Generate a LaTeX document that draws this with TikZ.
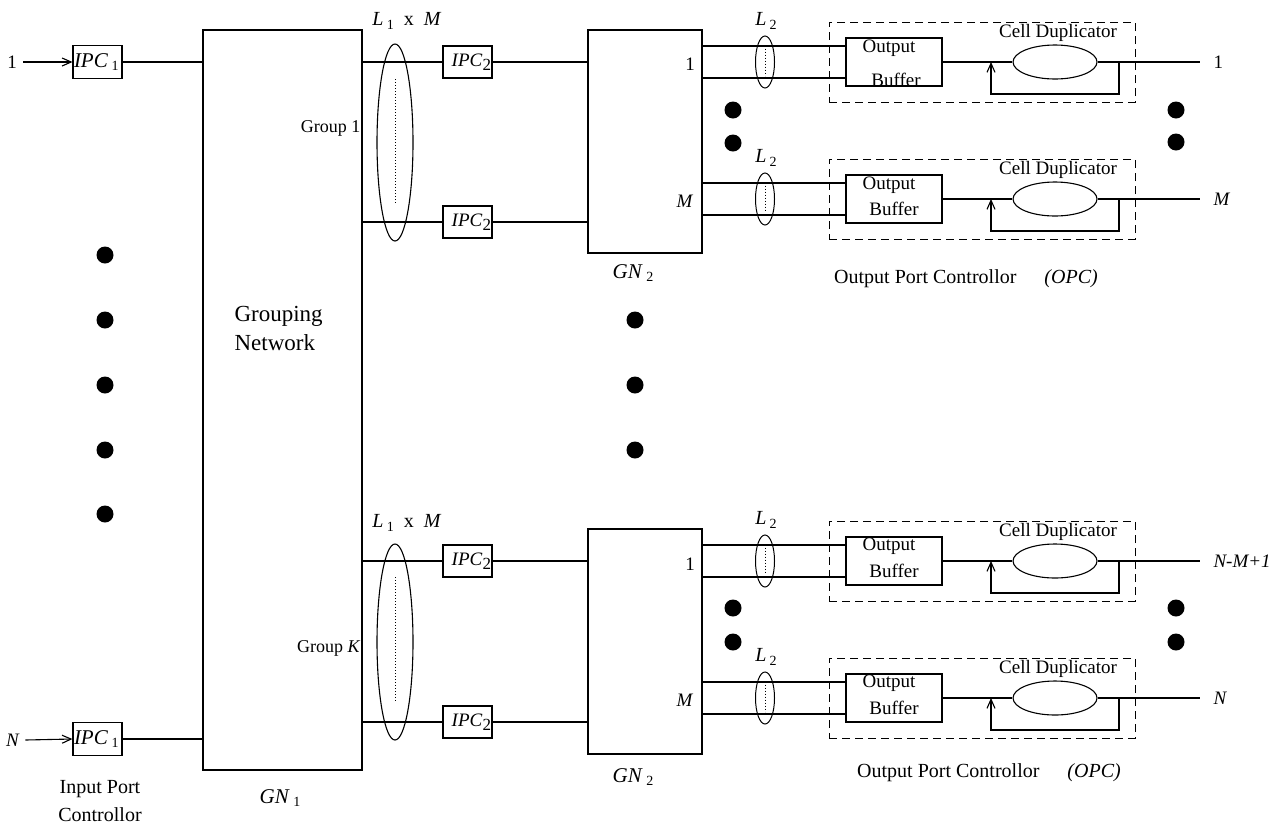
\documentclass[tikz,border=0pt]{standalone}
\usepackage{fontspec}
\setmainfont{Liberation Serif}
\usetikzlibrary{arrows.meta,shapes.geometric}
\newcommand{\lsub}[1]{\,\raisebox{-0.4ex}{\fontsize{14}{14}\selectfont #1}}
\begin{document}
\begin{tikzpicture}[x=1pt,y=-1pt,line width=1.1pt,font=\fontsize{19}{21}\selectfont,
  box/.style={draw,rectangle,inner sep=0pt},
  dashbox/.style={draw,rectangle,inner sep=0pt,dash pattern=on 8pt off 5pt,line width=1pt},
  ell/.style={draw,ellipse,inner sep=0pt},
  dotn/.style={circle,fill,inner sep=0pt,minimum size=17pt},
  lbl/.style={inner sep=0pt},
  big/.style={font=\fontsize{21}{23}\selectfont},
  arr/.style={-{Straight Barb[length=9pt,width=8pt]}}]
\useasboundingbox (0,0) rectangle (1281,831);
% input port controllers
\node[box,minimum width=49pt,minimum height=33pt] (ipcA) at (97.5,62) {};
\node[lbl,big,anchor=west] at ([xshift=1pt]ipcA.west) {\textit{IPC}\lsub{1}};
\node[box,minimum width=49pt,minimum height=33pt] (ipcB) at (97.5,739) {};
\node[lbl,big,anchor=west] at ([xshift=1pt]ipcB.west) {\textit{IPC}\lsub{1}};
\node[lbl] (inA) at (12,62) {1};
\node[lbl] (inB) at (13,740) {\textit{N}};
\draw[arr] (inA.east)++(6,0) coordinate (sa) (sa) -- (ipcA.west);
\draw[arr] (inB.east)++(5,0) coordinate (sb) (sb) -- (ipcB.west);
\node[lbl,font=\fontsize{20}{22}\selectfont] (ipl1) at (100,789) {Input Port};
\node[lbl,font=\fontsize{20}{22}\selectfont] (ipl2) at (100,815) {Controllor};
% GN1
\node[box,minimum width=159pt,minimum height=740pt] (gn1) at (282.5,400) {};
\draw (ipcA.east) -- (gn1.west |- ipcA.east);
\draw (ipcB.east) -- (gn1.west |- ipcB.east);
\node[lbl,font=\fontsize{23}{27}\selectfont,align=left,anchor=west] (gnt) at (234,328) {Grouping\\[2pt]Network};
\node[lbl,big] (gn1l) at (280,798) {\textit{GN}\lsub{1}};
\node[lbl,anchor=east,font=\fontsize{18}{20}\selectfont] (g1) at (361,128) {Group 1};
\node[lbl,anchor=east,font=\fontsize{18}{20}\selectfont] (gk) at (361,648) {Group \textit{K}};
% IPC2 and GN2
\node[box,minimum width=114pt,minimum height=223pt] (gn2a) at (645,141.5) {};
\node[box,minimum width=114pt,minimum height=225pt] (gn2b) at (645,641.5) {};
\foreach \y/\n/\g in {62/1/a,222/2/a,561/3/b,722/4/b}{
  \node[box,minimum width=49pt,minimum height=32pt] (ipc2\n) at (467.5,\y) {};
  \node[lbl,anchor=east] at ([xshift=-1pt]ipc2\n.east) {\textit{IPC}\raisebox{-0.45ex}{\fontsize{17}{17}\selectfont 2}};
  \draw (gn1.east |- ipc2\n) -- (ipc2\n.west);
  \draw (ipc2\n.east) -- (gn2\g.west |- ipc2\n);
}
\node[ell,minimum width=36pt,minimum height=197pt] (l1a) at (395,142.5) {};
\node[ell,minimum width=36pt,minimum height=196pt] (l1b) at (395,642) {};
\draw[dotted,line width=1pt] ([yshift=-36pt]l1a.north) -- ([yshift=38pt]l1a.south);
\draw[dotted,line width=1pt] ([yshift=-34pt]l1b.north) -- ([yshift=38pt]l1b.south);
\node[lbl,font=\fontsize{20}{22}\selectfont] (l1la) at (407,21) {\textit{L}\lsub{1}\ \ x\ \ \textit{M}};
\node[lbl,font=\fontsize{20}{22}\selectfont] (l1lb) at (407,523) {\textit{L}\lsub{1}\ \ x\ \ \textit{M}};
\node[lbl,big] (gn2la) at (633,273) {\textit{GN}\lsub{2}};
\node[lbl,big] (gn2lb) at (633,777) {\textit{GN}\lsub{2}};
\node[lbl] at (690,64) {1};
\node[lbl] at (685,201) {\textit{M}};
\node[lbl] at (690,564) {1};
\node[lbl] at (685,700) {\textit{M}};
% output rows
\foreach \r/\g/\i in {62/a/1,199/a/2,561/b/3,698/b/4}{
  \node[dashbox,minimum width=306pt,minimum height=80pt] (opc\i) at (982,\r) {};
  \node[box,minimum width=96pt,minimum height=48pt] (buf\i) at (894,\r) {};
  \node[ell,minimum width=84pt,minimum height=34pt] (dup\i) at (1055,\r) {};
  \node[ell,minimum width=19pt,minimum height=52pt,line width=1pt] (l2e\i) at (765,\r) {};
  \draw[dotted,line width=1pt] ([yshift=-13pt]l2e\i.north) -- ([yshift=13pt]l2e\i.south);
  \node[lbl,font=\fontsize{20}{22}\selectfont] (l2l\i) at (766,\r-41) {\textit{L}\lsub{2}};
  \node[lbl] (cd\i) at (1058,\r-29) {Cell Duplicator};
  \coordinate (ia\i) at (846,\r-16);
  \coordinate (ib\i) at (846,\r+16);
  \draw (gn2\g.east |- ia\i) -- (ia\i);
  \draw (gn2\g.east |- ib\i) -- (ib\i);
  \draw (buf\i.east) -- (dup\i.west);
  \coordinate (out\i) at (1200,\r);
  \draw (dup\i.east) -- (out\i);
  \coordinate (fb\i) at (1119,\r);
  \coordinate (fa\i) at (991,\r);
  \draw[arr] (fb\i) -- ++(0,32) -| (fa\i);
}
\node[lbl] at (889,48) {Output};
\node[lbl] at (896,80) {Buffer};
\node[lbl] at (889,185) {Output};
\node[lbl] at (894,209) {Buffer};
\node[lbl] at (889,546) {Output};
\node[lbl] at (894,571) {Buffer};
\node[lbl] at (889,683) {Output};
\node[lbl] at (894,708) {Buffer};
\node[lbl,anchor=west] at (1213,62) {1};
\node[lbl,anchor=west] at (1213,199) {\textit{M}};
\node[lbl,anchor=west] at (1213,561) {\textit{N-M+1}};
\node[lbl,anchor=west] at (1213,698) {\textit{N}};
\node[lbl,font=\fontsize{20}{22}\selectfont] (opcl1) at (966,279) {Output Port Controllor\hspace{1.4em}\textit{(OPC)}};
\node[lbl,font=\fontsize{20}{22}\selectfont] (opcl2) at (989,773) {Output Port Controllor\hspace{1.4em}\textit{(OPC)}};
% dots
\foreach \y in {255,320,385,450,514} \node[dotn] at (105,\y) {};
\foreach \y in {320,385,450} \node[dotn] at (635,\y) {};
\foreach \y in {110,143,608,642} \node[dotn] at (733,\y) {};
\foreach \y in {110,142,608,642} \node[dotn] at (1176,\y) {};
\end{tikzpicture}
\end{document}
